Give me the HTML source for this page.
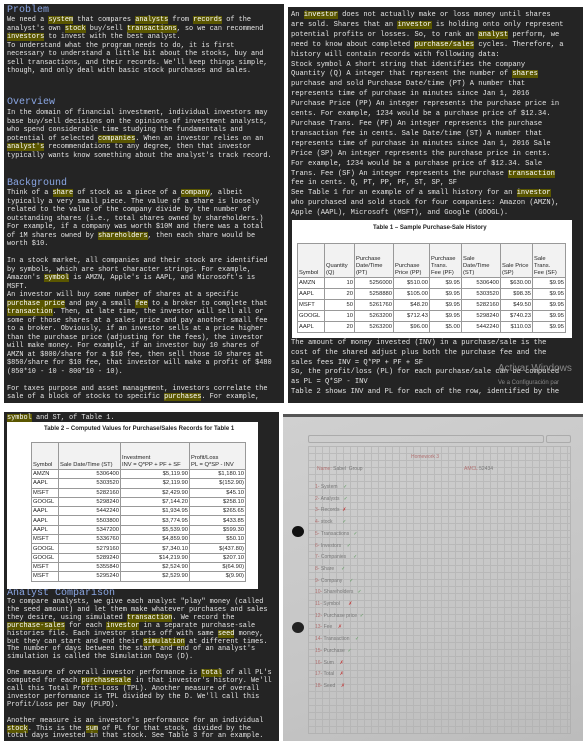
<!DOCTYPE html>
<html><head><meta charset="utf-8">
<style>
*{margin:0;padding:0;box-sizing:border-box}
body{width:583px;height:741px;background:#fff;position:relative;overflow:hidden;font-family:"Liberation Mono",monospace}
.panel{position:absolute;background:#242424;overflow:hidden}
.t{position:absolute;white-space:pre;color:#e4e4e4;font-size:6.9px;line-height:8.5px;font-family:"Liberation Mono",monospace}
.h{position:absolute;color:#8aa6e4;font-size:10px;font-family:"Liberation Mono",monospace;white-space:pre}
.hl{background:#5a5600;color:#fff}
table{position:absolute;border-collapse:collapse;table-layout:fixed;font-family:"Liberation Sans Narrow","Liberation Sans",sans-serif;font-size:5.8px;color:#222;background:#fff}
td,th{border:0.6px solid #999;padding:0 1px;overflow:hidden;white-space:nowrap}
th{font-weight:normal;text-align:left;vertical-align:bottom;background:#f2f2f2;line-height:7px}
td{text-align:right}
td:first-child{text-align:left}
.box{position:absolute;background:#fff}
.cap{position:absolute;font-family:"Liberation Sans Narrow","Liberation Sans",sans-serif;font-size:6px;color:#222;font-weight:bold;white-space:nowrap}
.hw{position:absolute;font-family:"Liberation Sans",sans-serif;font-size:5px;color:#b07070;white-space:pre}
.ck{color:#5a9a5a}
.xx{color:#c04040}
</style></head><body>

<div class="panel" style="left:4px;top:4px;width:280px;height:399px">
<div class="h" style="left:3px;top:1px">Problem</div>
<div class="t" style="left:3px;top:12px">We need a <span class="hl">system</span> that compares <span class="hl">analysts</span> from <span class="hl">records</span> of the
analyst's own <span class="hl">stock</span> buy/sell <span class="hl">transactions</span>, so we can recommend
<span class="hl">investors</span> to invest with the best analyst.
To understand what the program needs to do, it is first
necessary to understand a little bit about the stocks, buy and
sell transactions, and their records. We'll keep things simple,
though, and only deal with basic stock purchases and sales.</div>
<div class="h" style="left:3px;top:93px">Overview</div>
<div class="t" style="left:3px;top:105px">In the domain of financial investment, individual investors may
base buy/sell decisions on the opinions of investment analysts,
who spend considerable time studying the fundamentals and
potential of selected <span class="hl">companies</span>. When an investor relies on an
<span class="hl">analyst's</span> recommendations to any degree, then that investor
typically wants know something about the analyst's track record.</div>
<div class="h" style="left:3px;top:174px">Background</div>
<div class="t" style="left:3px;top:185px">Think of a <span class="hl">share</span> of stock as a piece of a <span class="hl">company</span>, albeit
typically a very small piece. The value of a share is loosely
related to the value of the company divide by the number of
outstanding shares (i.e., total shares owned by shareholders.)
For example, if a company was worth $10M and there was a total
of 1M shares owned by <span class="hl">shareholders</span>, then each share would be
worth $10.

In a stock market, all companies and their stock are identified
by symbols, which are short character strings. For example,
Amazon's <span class="hl">symbol</span> is AMZN, Apple's is AAPL, and Microsoft's is
MSFT.
An investor will buy some number of shares at a specific
<span class="hl">purchase price</span> and pay a small <span class="hl">fee</span> to a broker to complete that
<span class="hl">transaction</span>. Then, at late time, the investor will sell all or
some of those shares at a sales price and pay another small fee
to a broker. Obviously, if an investor sells at a price higher
than the purchase price (adjusting for the fees), the investor
will make money. For example, if an investor buy 10 shares of
AMZN at $800/share for a $10 fee, then sell those 10 shares at
$850/share for $10 fee, that investor will make a profit of $480
(850*10 - 10 - 800*10 - 10).

For taxes purpose and asset management, investors correlate the
sale of a block of stocks to specific <span class="hl">purchases</span>. For example,</div>
</div>

<div class="panel" style="left:288px;top:7px;width:295px;height:396px">
<div class="t" style="left:3px;top:4px;font-size:7.1px;line-height:9.9px">An <span class="hl">investor</span> does not actually make or loss money until shares
are sold. Shares that an <span class="hl">investor</span> is holding onto only represent
potential profits or losses. So, to rank an <span class="hl">analyst</span> perform, we
need to know about completed <span class="hl">purchase/sales</span> cycles. Therefore, a
history will contain records with following data:
Stock symbol A short string that identifies the company
Quantity (Q) A integer that represent the number of <span class="hl">shares</span>
purchase and sold Purchase Date/time (PT) A number that
represents time of purchase in minutes since Jan 1, 2016
Purchase Price (PP) An integer represents the purchase price in
cents. For example, 1234 would be a purchase price of $12.34.
Purchase Trans. Fee (PF) An integer represents the purchase
transaction fee in cents. Sale Date/time (ST) A number that
represents time of purchase in minutes since Jan 1, 2016 Sale
Price (SP) An integer represents the purchase price in cents.
For example, 1234 would be a purchase price of $12.34. Sale
Trans. Fee (SF) An integer represents the purchase <span class="hl">transaction</span>
fee in cents. Q, PT, PP, PF, ST, SP, SF
See Table 1 for an example of a small history for an <span class="hl">investor</span>
who purchased and sold stock for four companies: Amazon (AMZN),
Apple (AAPL), Microsoft (MSFT), and Google (GOOGL).</div>
<div class="t" style="left:3px;top:332px;font-size:7.1px;line-height:9.8px">The amount of money invested (INV) in a purchase/sale is the
cost of the shared adjust plus both the purchase fee and the
sales fees INV = Q*PP + PF + SF
So, the profit/loss (PL) for each purchase/sale can be computed
as PL = Q*SP - INV
Table 2 shows INV and PL for each of the row, identified by the</div>
<div class="t" style="left:210px;top:358px;font-family:'Liberation Sans',sans-serif;font-size:10px;color:#888">Activar Windows</div>
<div class="t" style="left:210px;top:372px;font-family:'Liberation Sans',sans-serif;font-size:6px;color:#888">Ve a Configuración par</div>
</div>

<div class="box" style="left:292px;top:220px;width:280px;height:118px"></div>
<div class="cap" style="left:373px;top:225px">Table 1 – Sample Purchase-Sale History</div>
<table style="left:297px;top:243px;width:268px">
<colgroup><col style="width:27px"><col style="width:30px"><col style="width:39px"><col style="width:36px"><col style="width:32px"><col style="width:39px"><col style="width:32px"><col style="width:33px"></colgroup>
<tr style="height:34px"><th>Symbol</th><th>Quantity<br>(Q)</th><th>Purchase<br>Date/Time<br>(PT)</th><th>Purchase<br>Price (PP)</th><th>Purchase<br>Trans.<br>Fee (PF)</th><th>Sale<br>Date/Time<br>(ST)</th><th>Sale Price<br>(SP)</th><th>Sale<br>Trans.<br>Fee (SF)</th></tr>
<tr style="height:11px"><td>AMZN</td><td>10</td><td>5256000</td><td>$510.00</td><td>$9.95</td><td>5306400</td><td>$630.00</td><td>$9.95</td></tr>
<tr style="height:11px"><td>AAPL</td><td>20</td><td>5258880</td><td>$105.00</td><td>$9.95</td><td>5303520</td><td>$98.35</td><td>$9.95</td></tr>
<tr style="height:11px"><td>MSFT</td><td>50</td><td>5261760</td><td>$48.20</td><td>$9.95</td><td>5282160</td><td>$49.50</td><td>$9.95</td></tr>
<tr style="height:11px"><td>GOOGL</td><td>10</td><td>5263200</td><td>$712.43</td><td>$9.95</td><td>5298240</td><td>$740.23</td><td>$9.95</td></tr>
<tr style="height:11px"><td>AAPL</td><td>20</td><td>5263200</td><td>$96.00</td><td>$5.00</td><td>5442240</td><td>$110.03</td><td>$9.95</td></tr>
</table>

<div class="panel" style="left:4px;top:412px;width:275px;height:329px">
<div class="t" style="left:3px;top:2px"><span class="hl">symbol</span> and ST, of Table 1.</div>
<div class="h" style="left:3px;top:176px">Analyst Comparison</div>
<div class="t" style="left:3px;top:187px;line-height:7.9px">To compare analysts, we give each analyst "play" money (called
the seed amount) and let them make whatever purchases and sales
they desire, using simulated <span class="hl">transaction</span>. We record the
<span class="hl">purchase-sales</span> for each <span class="hl">investor</span> in a separate purchase-sale
histories file. Each investor starts off with same <span class="hl">seed</span> money,
but they can start and end their <span class="hl">simulation</span> at different times.
The number of days between the start and end of an analyst's
simulation is called the Simulation Days (D).

One measure of overall investor performance is <span class="hl">total</span> of all PL's
computed for each <span class="hl">purchasesale</span> in that investor's history. We'll
call this Total Profit-Loss (TPL). Another measure of overall
investor performance is TPL divided by the D. We'll call this
Profit/Loss per Day (PLPD).

Another measure is an investor's performance for an individual
<span class="hl">stock</span>. This is the <span class="hl">sum</span> of PL for that stock, divided by the
total days invested in that stock. See Table 3 for an example.</div>
</div>

<div class="box" style="left:7px;top:422px;width:251px;height:167px"></div>
<div class="cap" style="left:44px;top:426px">Table 2 – Computed Values for Purchase/Sales Records for Table 1</div>
<table style="left:31px;top:442px;width:214px">
<colgroup><col style="width:27px"><col style="width:62px"><col style="width:69px"><col style="width:56px"></colgroup>
<tr style="height:27px"><th>Symbol</th><th>Sale Date/Time (ST)</th><th>Investment<br>INV = Q*PP + PF + SF</th><th>Profit/Loss<br>PL = Q*SP - INV</th></tr>
<tr style="height:9.3px"><td>AMZN</td><td>5306400</td><td>$5,119.90</td><td>$1,180.10</td></tr>
<tr style="height:9.3px"><td>AAPL</td><td>5303520</td><td>$2,119.90</td><td>$(152.90)</td></tr>
<tr style="height:9.3px"><td>MSFT</td><td>5282160</td><td>$2,429.90</td><td>$45.10</td></tr>
<tr style="height:9.3px"><td>GOOGL</td><td>5298240</td><td>$7,144.20</td><td>$258.10</td></tr>
<tr style="height:9.3px"><td>AAPL</td><td>5442240</td><td>$1,934.95</td><td>$265.65</td></tr>
<tr style="height:9.3px"><td>AAPL</td><td>5503800</td><td>$3,774.95</td><td>$433.85</td></tr>
<tr style="height:9.3px"><td>AAPL</td><td>5347200</td><td>$5,539.90</td><td>$599.30</td></tr>
<tr style="height:9.3px"><td>MSFT</td><td>5336760</td><td>$4,859.90</td><td>$50.10</td></tr>
<tr style="height:9.3px"><td>GOOGL</td><td>5279160</td><td>$7,340.10</td><td>$(437.80)</td></tr>
<tr style="height:9.3px"><td>GOOGL</td><td>5289240</td><td>$14,219.90</td><td>$207.10</td></tr>
<tr style="height:9.3px"><td>MSFT</td><td>5355840</td><td>$2,524.90</td><td>$(64.90)</td></tr>
<tr style="height:9.3px"><td>MSFT</td><td>5295240</td><td>$2,529.90</td><td>$(9.90)</td></tr>
</table>

<div style="position:absolute;left:283px;top:414px;width:300px;height:327px;background:linear-gradient(160deg,#d0d0d0,#c6c6c6 60%,#bcbcbc);overflow:hidden">
<div style="position:absolute;left:0;top:0;width:300px;height:3px;background:#555"></div>
<div style="position:absolute;left:25px;top:21px;width:236px;height:8px;border:0.7px solid #ababab;border-radius:2px"></div>
<div style="position:absolute;left:263px;top:21px;width:25px;height:8px;border:0.7px solid #ababab;border-radius:2px"></div>
<div style="position:absolute;left:25px;top:32px;width:263px;height:288px;border:0.7px solid #a8a8a8;background-image:repeating-linear-gradient(90deg,transparent 0 6px,#afafaf 6px 7px),repeating-linear-gradient(0deg,transparent 0 6px,#afafaf 6px 7px);opacity:.6"></div>
<div style="position:absolute;left:9px;top:112px;width:12px;height:11px;border-radius:50%;background:#111"></div>
<div style="position:absolute;left:9px;top:208px;width:12px;height:11px;border-radius:50%;background:#222"></div>
<div class="hw" style="left:128px;top:40px">Homework 3</div>
<div class="hw" style="left:34px;top:52px">Name: <span style="color:#777">Sabel  Group</span></div>
<div class="hw" style="left:181px;top:52px">AMCL <span style="color:#777">52434</span></div>
<div class="hw" style="left:32px;top:68px;line-height:11.7px">1- <span style="color:#777">System</span>    <span class="ck">✓</span>
2- <span style="color:#777">Analysts</span>   <span class="ck">✓</span>
3- <span style="color:#777">Records</span>  <span class="xx">✗</span>
4- <span style="color:#777">stock</span>       <span class="ck">✓</span>
5- <span style="color:#777">Transactions</span>   <span class="ck">✓</span>
6- <span style="color:#777">Investors</span>    <span class="ck">✓</span>
7- <span style="color:#777">Companies</span>     <span class="ck">✓</span>
8- <span style="color:#777">Share</span>     <span class="ck">✓</span>
9- <span style="color:#777">Company</span>     <span class="ck">✓</span>
10- <span style="color:#777">Shareholders</span>   <span class="ck">✓</span>
11- <span style="color:#777">Symbol</span>      <span class="xx">✗</span>
12- <span style="color:#777">Purchase price</span>  <span class="ck">✓</span>
13- <span style="color:#777">Fee</span>    <span class="xx">✗</span>
14- <span style="color:#777">Transaction</span>    <span class="ck">✓</span>
15- <span style="color:#777">Purchase</span>  <span class="ck">✓</span>
16- <span style="color:#777">Sum</span>    <span class="xx">✗</span>
17- <span style="color:#777">Total</span>    <span class="xx">✗</span>
18- <span style="color:#777">Seed</span>    <span class="xx">✗</span></div>
</div>
</body></html>
